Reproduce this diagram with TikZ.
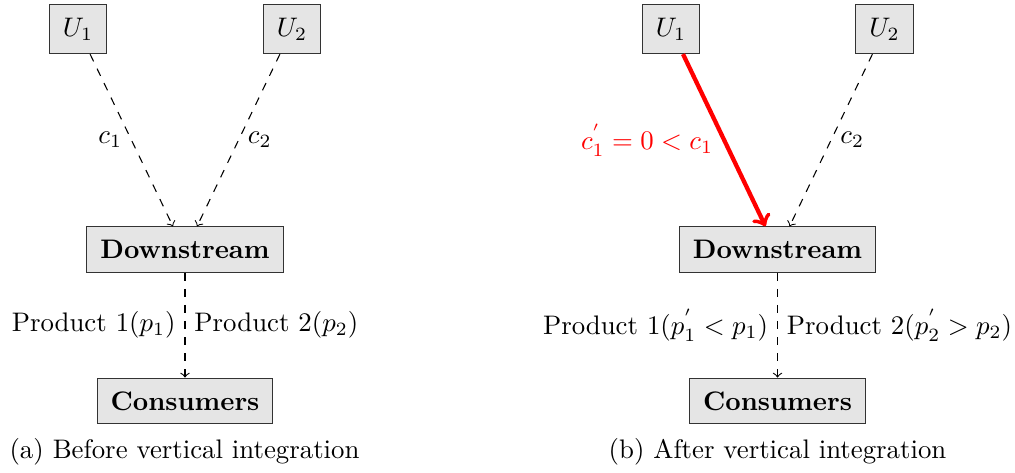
\documentclass[tikz,border=0pt]{standalone}
\usetikzlibrary{arrows}
\begin{document}
\begin{tikzpicture}[x=0.373pt,y=-0.373pt,
  box/.style={draw=black!80, fill=black!10, inner sep=5pt},
  flow/.style={->, dashed},
  gain/.style={->, red, ultra thick},
  lbl/.style={inner sep=3.33pt}]
\useasboundingbox (0,0) rectangle (1015,472);
% ---- left panel
\node[box] (aU1) at (78,29) {$U_1$};
\node[box] (aU2) at (292,29) {$U_2$};
\node[box] (aD) at (185,249.5) {\textbf{Downstream}};
\node[box] (aC) at (185,401) {\textbf{Consumers}};
\draw[flow] (aU1) -- ([xshift=-4.5pt]aD.north) node[midway,left,lbl] {$c_1$};
\draw[flow] (aU2) -- ([xshift=4.5pt]aD.north) node[midway,right,lbl] {$c_2$};
\draw[flow] (aD) -- (aC)
  node[midway,left,lbl] {Product 1($p_1$)}
  node[midway,right,lbl] {Product 2($p_2$)};
\node (capA) at (184.5,452) {(a) Before vertical integration};
% ---- right panel
\node[box] (bU1) at (671,29) {$U_1$};
\node[box] (bU2) at (884.5,29) {$U_2$};
\node[box] (bD) at (777.5,249.5) {\textbf{Downstream}};
\node[box] (bC) at (777.5,401) {\textbf{Consumers}};
\draw[gain] (bU1) -- ([xshift=-4.5pt]bD.north) node[midway,left,lbl] {$c_1^{'}=0<c_1$};
\draw[flow] (bU2) -- ([xshift=4.5pt]bD.north) node[midway,right,lbl] {$c_2$};
\draw[flow] (bD) -- (bC)
  node[midway,left,lbl] {Product 1($p_1^{'}<p_1$)}
  node[midway,right,lbl] {Product 2($p_2^{'}>p_2$)};
\node (capB) at (777.5,452) {(b) After vertical integration};
\end{tikzpicture}
\end{document}
